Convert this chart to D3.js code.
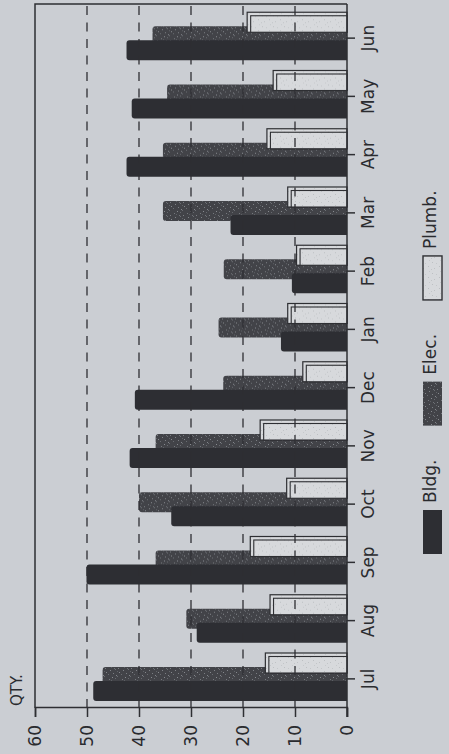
<!DOCTYPE html>
<html>
<head>
<meta charset="utf-8">
<script src="https://d3js.org/d3.v7.min.js"></script>
<style>
  html, body { margin: 0; padding: 0; background: #cbced3; }
  svg { display: block; }
  text { font-family: "DejaVu Sans", sans-serif; fill: #2a2b2f; }
</style>
</head>
<body>
<svg id="chart" width="449" height="754"></svg>
<script>
// Monthly quantities by trade, fiscal year Jul–Jun
const months = ["Jul", "Aug", "Sep", "Oct", "Nov", "Dec", "Jan", "Feb", "Mar", "Apr", "May", "Jun"];
const bldg   = [48.8, 28.9, 50.1, 33.8, 41.8, 40.8, 12.7, 10.6, 22.4, 42.4, 41.4, 42.4];
const elec   = [47.0, 30.9, 36.8, 40.0, 36.8, 23.8, 24.7, 23.7, 35.4, 35.4, 34.6, 37.4];
const plumb  = [15.7, 14.8, 18.6, 11.6, 16.7, 8.5, 11.4, 9.7, 11.4, 15.4, 14.2, 19.2];
const seriesNames = ["Bldg.", "Elec.", "Plumb."];
const valueTicks = [0, 10, 20, 30, 40, 50, 60];
const gridTicks = [10, 20, 30, 40, 50];
const axisTitle = "QTY.";

const W = 449, H = 754;
const svg = d3.select("#chart");

// Stipple textures (fixed speck layouts)
const defs = svg.append("defs");
function stipple(id, size, base, specks) {
  const p = defs.append("pattern").attr("id", id)
    .attr("width", size).attr("height", size).attr("patternUnits", "userSpaceOnUse");
  p.append("rect").attr("width", size).attr("height", size).attr("fill", base);
  specks.forEach(([sx, sy, c]) =>
    p.append("rect").attr("x", sx).attr("y", sy).attr("width", 1).attr("height", 1).attr("fill", c));
}
stipple("elecFill", 13, "#424348", [
  [0,1,"#7c7f84"],[5,0,"#6b6e73"],[9,2,"#85888d"],[2,5,"#75787d"],[7,4,"#6a6d72"],
  [11,6,"#7f8287"],[4,8,"#878a8f"],[0,10,"#6f7277"],[8,9,"#7a7d82"],[12,11,"#6c6f74"],
  [6,12,"#81848a"],[3,11,"#66696e"],[10,0,"#5f6267"],[1,7,"#5c5f64"]
]);
stipple("plumbFill", 11, "#d7d9dc", [
  [1,0,"#bfc2c5"],[6,2,"#c4c7ca"],[3,5,"#bcbfc2"],[9,6,"#c6c9cc"],[0,8,"#c2c5c8"],[7,9,"#bdc0c3"]
]);

// The chart is laid out as a column chart and then turned a quarter turn
const g = svg.append("g").attr("transform", `translate(0,${H}) rotate(-90)`);

const frame = { left: 46, right: 750, top: 35, bottom: 347 };

const x = d3.scaleBand().domain(months).range([46, 745]).padding(0);
const sub = d3.scalePoint().domain(seriesNames).range([7, 35]);
const barW = 20;
const y = d3.scaleLinear().domain([0, 60]).range([frame.bottom, frame.top]);

const ink = "#2e2f33";

function roundTop(x0, w, yTop, yBot, r) {
  r = Math.min(r, (yBot - yTop) / 2);
  return `M${x0},${yBot}V${yTop + r}Q${x0},${yTop} ${x0 + r},${yTop}H${x0 + w - r}Q${x0 + w},${yTop} ${x0 + w},${yTop + r}V${yBot}Z`;
}

const rows = months.map((m, i) => ({ m, b: bldg[i], e: elec[i], p: plumb[i] }));
const groups = g.append("g").selectAll("g").data(rows).join("g")
  .attr("transform", d => `translate(${x(d.m)},0)`);

// Elec. sits behind, Bldg. in front of it, Plumb. on top
groups.append("path")
  .attr("d", d => roundTop(sub("Elec."), barW, y(d.e), y(0), 3))
  .attr("fill", "url(#elecFill)");
groups.append("path")
  .attr("d", d => roundTop(sub("Bldg."), barW, y(d.b), y(0), 3))
  .attr("fill", "#2d2e33");
// Plumb. bars with a raised edge along the end and the far side
groups.append("rect")
  .attr("x", sub("Plumb.")).attr("width", barW)
  .attr("y", d => y(d.p)).attr("height", d => y(0) - y(d.p))
  .attr("fill", "url(#plumbFill)").attr("stroke", ink).attr("stroke-width", 1.2);
groups.append("rect")
  .attr("x", sub("Plumb.")).attr("width", barW - 3.5)
  .attr("y", d => y(d.p) + 3.5).attr("height", d => y(0) - y(d.p) - 3.5)
  .attr("fill", "url(#plumbFill)").attr("stroke", ink).attr("stroke-width", 1.1);

// Dashed gridlines
g.append("g").selectAll("line").data(gridTicks).join("line")
  .attr("x1", frame.left).attr("x2", frame.right)
  .attr("y1", d => y(d)).attr("y2", d => y(d))
  .attr("stroke", ink).attr("stroke-width", 1.3).attr("stroke-dasharray", "9,7.5");

// Frame: top and far side
g.append("path")
  .attr("d", `M${frame.left},${frame.top}H${frame.right}V${frame.bottom}`)
  .attr("fill", "none").attr("stroke", ink).attr("stroke-width", 1.5);

// Value axis
const yAxis = g.append("g").attr("transform", `translate(${frame.left},0)`)
  .call(d3.axisLeft(y).tickValues(valueTicks).tickSize(9).tickPadding(8).tickFormat(d3.format("d")));
yAxis.select(".domain").attr("stroke", ink).attr("stroke-width", 1.5);
yAxis.selectAll(".tick line").attr("stroke", ink).attr("stroke-width", 1.5);
yAxis.selectAll("text").attr("font-size", 17).attr("fill", "#2a2b2f")
  .style("font-family", "DejaVu Sans, sans-serif");

// Category axis along the zero line
const xAxis = g.append("g").attr("transform", `translate(0,${frame.bottom})`)
  .call(d3.axisBottom(x).tickSize(8).tickPadding(7).tickSizeOuter(0));
xAxis.select(".domain").attr("d", `M${frame.left - 9},0H${frame.right}`)
  .attr("stroke", ink).attr("stroke-width", 1.5);
xAxis.selectAll(".tick line").attr("stroke", ink).attr("stroke-width", 1.5);
xAxis.selectAll("text").attr("font-size", 17).attr("fill", "#2a2b2f")
  .style("font-family", "DejaVu Sans, sans-serif");

// Axis title
g.append("text").attr("x", 48).attr("y", 22).attr("font-size", 15).text(axisTitle);

// Legend
const swatchFill = { "Bldg.": "#2d2e33", "Elec.": "url(#elecFill)", "Plumb.": "url(#plumbFill)" };
const legend = g.append("g").attr("transform", "translate(0,423)");
let lx = 200;
seriesNames.forEach(name => {
  legend.append("rect").attr("x", lx).attr("y", 0).attr("width", 44).attr("height", 19)
    .attr("fill", swatchFill[name])
    .attr("stroke", name === "Plumb." ? ink : "none").attr("stroke-width", 1.4);
  const t = legend.append("text").attr("x", lx + 51).attr("y", 13).attr("font-size", 17).text(name);
  lx += 51 + t.node().getComputedTextLength() + 34;
});
</script>
</body>
</html>
